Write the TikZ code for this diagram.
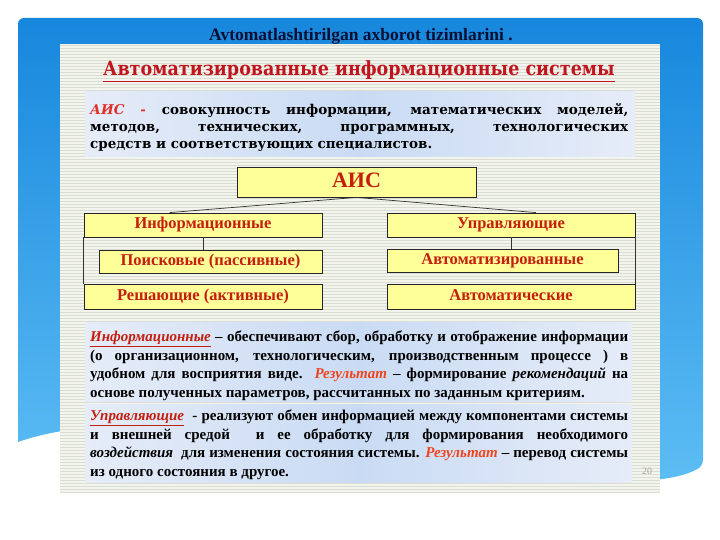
\documentclass[tikz,border=0pt]{standalone}
\usepackage{fontspec}
\setmainfont{Liberation Serif}
\newfontfamily\wideserif{DejaVu Serif}
\newfontfamily\narrowserif{DejaVu Serif Condensed}
\usetikzlibrary{calc}
\definecolor{slidetop}{HTML}{1787DD}
\definecolor{slidebottom}{HTML}{63C2F6}
\definecolor{paper}{HTML}{F3F5EC}
\definecolor{paperline}{HTML}{D9DDD3}
\definecolor{blockside}{HTML}{E6ECF8}
\definecolor{blockmid}{HTML}{C9DBF4}
\definecolor{boxyellow}{HTML}{FFFF99}
\definecolor{boxred}{HTML}{C41E0E}
\definecolor{titlered}{HTML}{C0141E}
\definecolor{aisred}{HTML}{E0302A}
\definecolor{resred}{HTML}{F0441E}
\definecolor{navy}{HTML}{0A1033}

\tikzset{
  ablock/.style={shading=axis,left color=blockside,right color=blockside,middle color=blockmid,shading angle=90},
  tbox/.style={draw=black!85,fill=boxyellow,line width=0.8pt,inner sep=0pt,
    text height=11pt,text depth=3.5pt,
    text=boxred,font=\bfseries\fontsize{16.5}{18}\selectfont},
  link/.style={draw=black!80,line width=0.7pt},
  para/.style={anchor=north west,inner sep=0pt,text width=538pt,align=justify,
    font=\bfseries\fontsize{15}{18.4}\selectfont}
}

\begin{document}
\begin{tikzpicture}[x=1pt,y=-1pt]
  \useasboundingbox (0,0) rectangle (720,540);
  \fill[white] (0,0) rectangle (720,540);
  % blue slide background
  \shade[top color=slidetop,bottom color=slidebottom,rounded corners=6pt]
    (18,442) |- (360,18) -| (703,466) [sharp corners]
    .. controls (600,522) and (200,378) .. (18,442) -- cycle;
  \node[font=\bfseries\fontsize{17.5}{19}\selectfont,text=navy] (head) at (361,36)
    {Avtomatlashtirilgan axborot tizimlarini .};

  % lined picture
  \fill[paper] (60,44) rectangle (660,493);
  \foreach \y in {45,48,...,492}{
    \draw[paperline,line width=0.6pt] (60,\y) -- (660,\y);
  }
  \node[font=\narrowserif\bfseries\fontsize{19.5}{22}\selectfont,text=titlered] (title) at (359,71)
    {\underline{Автоматизированные информационные системы}};

  \fill[ablock] (85,92) rectangle (635,157);
  \node[para,font=\wideserif\bfseries\fontsize{13.5}{17}\selectfont] (def) at (90,103)
    {\textcolor{aisred}{\textit{АИС} -} совокупность информации, математических моделей,\linebreak
     методов, технических, программных, технологических\linebreak
     средств и соответствующих специалистов.};

  % tree of boxes
  \node[tbox,minimum width=239pt,minimum height=30pt,text height=15pt,text depth=4pt,
        font=\bfseries\fontsize{22}{24}\selectfont] (ais) at (356.5,182) {АИС};
  \node[tbox,minimum width=238pt,minimum height=24pt] (inf) at (203,225) {Информационные};
  \node[tbox,minimum width=248pt,minimum height=24pt] (upr) at (511,225) {Управляющие};
  \node[tbox,minimum width=223pt,minimum height=23pt] (poisk) at (210.5,261.5) {Поисковые (пассивные)};
  \node[tbox,minimum width=231pt,minimum height=23pt] (avtz) at (502.5,260.5) {Автоматизированные};
  \node[tbox,minimum width=238pt,minimum height=25pt] (resh) at (203,296.5) {Решающие (активные)};
  \node[tbox,minimum width=248pt,minimum height=25pt] (avt) at (511,296.5) {Автоматические};
  \draw[link] (ais.south) -- ($(inf.north west)!0.36!(inf.north east)$);
  \draw[link] (ais.south) -- ($(upr.north west)!0.6!(upr.north east)$);
  \draw[link] (inf.south) -- (inf.south |- poisk.north);
  \draw[link] (upr.south) -- (upr.south |- avtz.north);
  \draw[link] (inf.south west) -- (resh.north west);
  \draw[link] (upr.south east) -- (avt.north east);

  % explanations
  \fill[ablock] (85,322) rectangle (632,401);
  \node[para] (infdef) at (90,331)
    {\textcolor{boxred}{\textit{\underline{Информационные}}} – обеспечивают сбор, обработку и отображение информации\linebreak
     (о организационном, технологическим, производственным процессе ) в\linebreak
     удобном для восприятия виде. \textcolor{resred}{\textit{Результат}} – формирование \textit{рекомендаций} на\linebreak
     основе полученных параметров, рассчитанных по заданным критериям.};
  \fill[ablock] (85,404) rectangle (632,482);
  \node[para] (uprdef) at (90,410)
    {\textcolor{boxred}{\textit{\underline{Управляющие}}} \ - реализуют обмен информацией между компонентами системы\linebreak
     и внешней средой \ и ее обработку для формирования необходимого\linebreak
     \textit{воздействия} \ для изменения состояния системы. \textcolor{resred}{\textit{Результат}} – перевод системы\linebreak
     из одного состояния в другое.};
  \node[font=\fontsize{10}{12}\selectfont,text=black!35] (page) at (647,471) {20};
\end{tikzpicture}
\end{document}
